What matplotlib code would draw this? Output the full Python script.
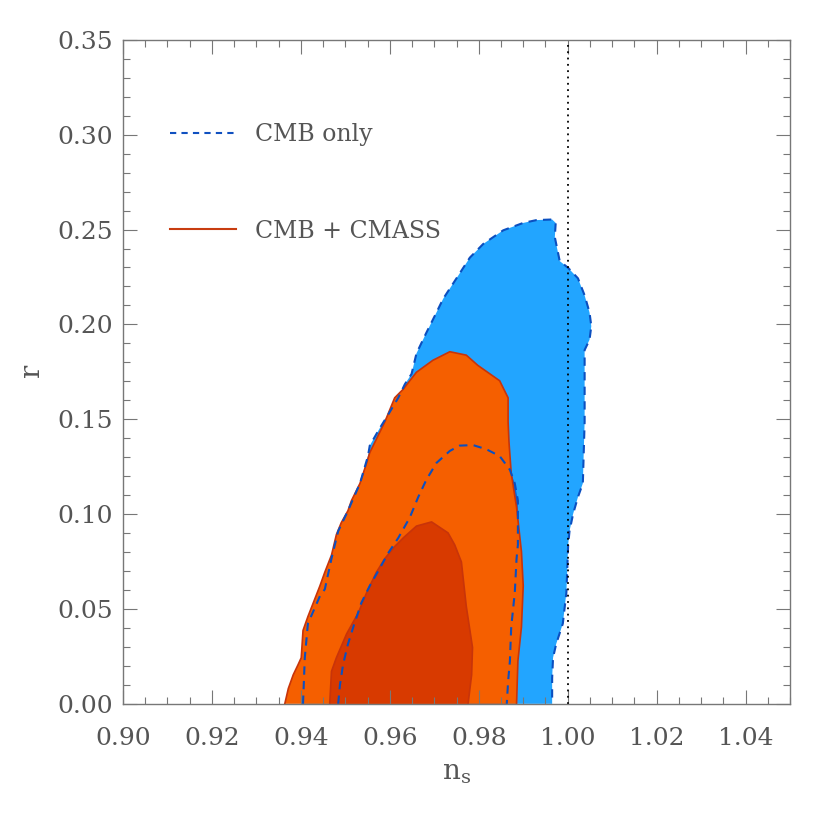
import numpy as np
import matplotlib.pyplot as plt
from matplotlib.lines import Line2D
from matplotlib.ticker import MultipleLocator

# contour outlines (n_s, r)
cmb_95_ns = [0.9405, 0.9409, 0.9416, 0.9443, 0.9454, 0.9469, 0.9484, 0.9506, 0.9533, 0.9551,
             0.9555, 0.9577, 0.9596, 0.9619, 0.9634, 0.9649, 0.9660, 0.9682, 0.9705, 0.9720,
             0.9750, 0.9780, 0.9810, 0.9855, 0.9900, 0.9930, 0.9965, 0.9973, 0.9971, 0.9982,
             1.0001, 1.0023, 1.0038, 1.0049, 1.0053, 1.0049, 1.0038, 1.0038, 1.0038, 1.0034,
             1.0023, 1.0012, 1.0004, 1.0001, 0.9997, 0.9989, 0.9974, 0.9967, 0.9965, 0.9965]
cmb_95_r = [0.0, 0.0243, 0.0423, 0.0568, 0.0604, 0.0766, 0.0910, 0.1018, 0.1162, 0.1306,
            0.1361, 0.1451, 0.1523, 0.1613, 0.1685, 0.1739, 0.1847, 0.1955, 0.2063, 0.2135,
            0.2243, 0.2352, 0.2424, 0.2496, 0.2535, 0.2550, 0.2553, 0.2535, 0.2460, 0.2334,
            0.2298, 0.2243, 0.2153, 0.2063, 0.1991, 0.1919, 0.1865, 0.1667, 0.1487, 0.1162,
            0.1090, 0.1000, 0.0910, 0.0838, 0.0586, 0.0423, 0.0315, 0.0243, 0.0135, 0.0]

cmb_68_ns = [0.9484, 0.9488, 0.9495, 0.9506, 0.9518, 0.9536, 0.9555, 0.9577, 0.9596, 0.9619,
             0.9645, 0.9664, 0.9682, 0.9705, 0.9735, 0.9757, 0.9787, 0.9817, 0.9847, 0.9870,
             0.9881, 0.9888, 0.9888, 0.9888, 0.9885, 0.9881, 0.9873, 0.9870, 0.9866, 0.9863]
cmb_68_r = [0.0, 0.0099, 0.0207, 0.0315, 0.0405, 0.0532, 0.0622, 0.0712, 0.0793, 0.0874,
            0.0982, 0.1090, 0.1180, 0.1270, 0.1333, 0.1361, 0.1364, 0.1342, 0.1306, 0.1234,
            0.1162, 0.1072, 0.0964, 0.0838, 0.0766, 0.0586, 0.0405, 0.0225, 0.0117, 0.0]

cmass_95_ns = [0.9364, 0.9372, 0.9383, 0.9394, 0.9401, 0.9405, 0.9416, 0.9428, 0.9443, 0.9454,
               0.9469, 0.9480, 0.9491, 0.9506, 0.9514, 0.9533, 0.9548, 0.9555, 0.9574, 0.9589,
               0.9611, 0.9630, 0.9660, 0.9697, 0.9735, 0.9772, 0.9798, 0.9847, 0.9866, 0.9866,
               0.9868, 0.9873, 0.9885, 0.9896, 0.9900, 0.9896, 0.9888, 0.9885]
cmass_95_r = [0.0, 0.0081, 0.0153, 0.0207, 0.0243, 0.0387, 0.0460, 0.0532, 0.0622, 0.0694,
              0.0784, 0.0892, 0.0955, 0.1018, 0.1072, 0.1162, 0.1270, 0.1324, 0.1415, 0.1487,
              0.1613, 0.1658, 0.1748, 0.1811, 0.1856, 0.1838, 0.1784, 0.1703, 0.1613, 0.1487,
              0.1379, 0.1216, 0.1036, 0.0802, 0.0622, 0.0405, 0.0225, 0.0]

cmass_68_ns = [0.9465, 0.9469, 0.9480, 0.9503, 0.9529, 0.9548, 0.9570, 0.9589, 0.9611, 0.9630,
               0.9660, 0.9694, 0.9731, 0.9746, 0.9761, 0.9772, 0.9786, 0.9784, 0.9776]
cmass_68_r = [0.0, 0.0171, 0.0243, 0.0369, 0.0478, 0.0586, 0.0694, 0.0766, 0.0829, 0.0874,
              0.0937, 0.0959, 0.0901, 0.0838, 0.0748, 0.0514, 0.0297, 0.0153, 0.0]

x_ticks = [0.90, 0.92, 0.94, 0.96, 0.98, 1.00, 1.02, 1.04]
y_ticks = [0.00, 0.05, 0.10, 0.15, 0.20, 0.25, 0.30, 0.35]

txt = '#555555'
plt.rcParams['font.family'] = ['DejaVu Serif']
plt.rcParams['mathtext.fontset'] = 'dejavuserif'

fig = plt.figure(figsize=(8.3, 8.3), dpi=100)
ax = fig.add_axes([0.148, 0.152, 0.804, 0.800])

# filled regions
ax.fill(cmb_95_ns, cmb_95_r, color='#22a5ff', lw=0)
ax.fill(cmb_68_ns, cmb_68_r, color='#0d62d6', lw=0)
ax.fill(cmass_95_ns, cmass_95_r, color='#f55f00', lw=0)
ax.plot(cmass_95_ns, cmass_95_r, color='#c8340a', lw=1.2)
ax.fill(cmass_68_ns, cmass_68_r, color='#d83a00', lw=0)
ax.plot(cmass_68_ns, cmass_68_r, color='#c8340a', lw=1.2)

# CMB-only outlines on top
ax.plot(cmb_95_ns, cmb_95_r, color='#0b4fc0', lw=1.5, ls=(0, (4, 3)))
ax.plot(cmb_68_ns, cmb_68_r, color='#0b4fc0', lw=1.5, ls=(0, (4, 3)))

ax.axvline(1.0, color='black', lw=1.3, ls=(0, (1, 2.5)))

ax.set_xlim(0.90, 1.05)
ax.set_ylim(0.0, 0.35)
ax.set_xticks(x_ticks)
ax.set_xticklabels(['%.2f' % v for v in x_ticks])
ax.set_yticks(y_ticks)
ax.set_yticklabels(['%.2f' % v for v in y_ticks])
ax.xaxis.set_minor_locator(MultipleLocator(0.005))
ax.yaxis.set_minor_locator(MultipleLocator(0.01))

ax.tick_params(which='both', direction='in', top=True, right=True, color='#777777',
               labelcolor=txt, labelsize=18)
ax.tick_params(axis='x', which='major', pad=16.5)
ax.tick_params(axis='y', which='major', pad=7)
ax.tick_params(which='major', length=10, width=0.8)
ax.tick_params(which='minor', length=5, width=0.8)
for s in ax.spines.values():
    s.set_color('#777777')
    s.set_linewidth(1.0)

ax.set_xlabel(r'$\mathregular{n_s}$', fontsize=20, color=txt, labelpad=7)
ax.set_ylabel('r', fontsize=20, color=txt, labelpad=9)

handles = [Line2D([], [], color='#1050c0', lw=1.5, ls=(0, (3, 2.5))),
           Line2D([], [], color='#c83c10', lw=1.5)]
ax.legend(handles, ['CMB only', 'CMB + CMASS'], loc='upper left', bbox_to_anchor=(0.07, 0.875),
          frameon=False, fontsize=17, labelcolor=txt, handlelength=2.8, handletextpad=0.8,
          labelspacing=3.13, borderpad=0, borderaxespad=0)

fig.savefig('out.png', dpi=100)
